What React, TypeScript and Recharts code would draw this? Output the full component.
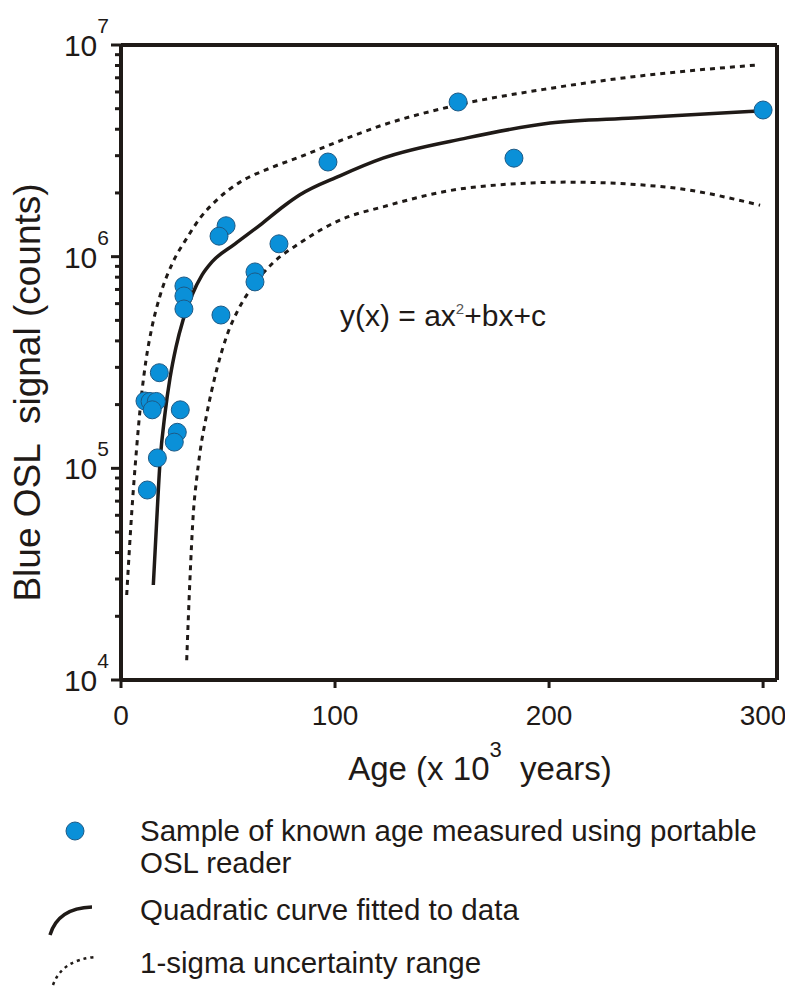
import { ComposedChart, Line, Scatter, XAxis, YAxis, ReferenceLine, Label } from "recharts"

// Samples of known age (x 10^3 years) vs blue OSL signal (counts)
const sampleAge = [300, 157.5, 183.6, 96.7, 73.8, 49.1, 45.8, 62.6, 62.6, 46.7, 29.4, 29.4, 29.4, 17.9, 11.2, 13.6, 16.5, 14.6, 27.7, 26.3, 24.9, 17.0, 12.3]
const sampleSignal = [4.93e6, 5.38e6, 2.92e6, 2.8e6, 1.15e6, 1.4e6, 1.25e6, 8.47e5, 7.6e5, 5.3e5, 7.27e5, 6.52e5, 5.66e5, 2.83e5, 2.08e5, 2.07e5, 2.07e5, 1.89e5, 1.89e5, 1.48e5, 1.33e5, 1.12e5, 7.9e4]

// Quadratic fit
const fitAge = [15.1, 16.7, 18.2, 20.6, 22.9, 25.7, 29.0, 33.2, 37.9, 42.5, 53.3, 64.95, 76.6, 83.6, 102.3, 122.4, 161.7, 200.5, 239.3, 298.6]
const fitSignal = [2.81e4, 5.7e4, 1.06e5, 1.83e5, 2.67e5, 3.74e5, 5.02e5, 6.59e5, 8.2e5, 9.44e5, 1.15e6, 1.41e6, 1.75e6, 1.96e6, 2.41e6, 2.92e6, 3.64e6, 4.28e6, 4.52e6, 4.88e6]

// 1-sigma bounds
const upperAge = [2.66, 5.0, 7.34, 9.35, 11.7, 14.5, 18.2, 24.3, 30.7, 36.9, 44.7, 55.6, 69.6, 83.6, 100.9, 122.4, 153.7, 200.5, 239.3, 297]
const upperSignal = [2.52e4, 6.15e4, 1.26e5, 2.1e5, 3.25e5, 4.66e5, 6.52e5, 9.44e5, 1.22e6, 1.52e6, 1.85e6, 2.25e6, 2.62e6, 2.96e6, 3.48e6, 4.19e6, 5.11e6, 6.24e6, 7.08e6, 8.04e6]
const lowerAge = [30.7, 32.2, 33.8, 35.4, 36.9, 40.0, 44.7, 49.4, 54.7, 60.3, 71.0, 83.6, 102.3, 122.4, 161.7, 208.4, 255.1, 298.6]
const lowerSignal = [1.24e4, 2.97e4, 6.15e4, 9.0e4, 1.19e5, 1.79e5, 2.92e5, 4.22e5, 5.6e5, 6.96e5, 9.34e5, 1.16e6, 1.49e6, 1.72e6, 2.11e6, 2.25e6, 2.13e6, 1.75e6]

const ageTicks = [0, 100, 200, 300]
const signalTicks = [
  1e4, 2e4, 3e4, 4e4, 5e4, 6e4, 7e4, 8e4, 9e4,
  1e5, 2e5, 3e5, 4e5, 5e5, 6e5, 7e5, 8e5, 9e5,
  1e6, 2e6, 3e6, 4e6, 5e6, 6e6, 7e6, 8e6, 9e6,
  1e7,
]
const majorTicks = [1e4, 1e5, 1e6, 1e7]

const ink = "#1f1a17"
const dotBlue = "#0a90d8"
const font = "'Liberation Sans', Arial, sans-serif"

const pairs = (xs: number[], ys: number[]) => xs.map((x, i) => ({ x, y: ys[i] }))
const samples = pairs(sampleAge, sampleSignal)
const fitted = pairs(fitAge, fitSignal)
const upper = pairs(upperAge, upperSignal)
const lower = pairs(lowerAge, lowerSignal)

function SignalTick(props: any) {
  const { x, y, payload } = props
  const v = payload.value
  const major = majorTicks.includes(v)
  return (
    <g>
      <line x1={x - (major ? 10 : 6)} x2={x} y1={y} y2={y} stroke={ink} strokeWidth={3} />
      {major && (
        <text x={x - 12} y={y + 11} textAnchor="end" fill={ink} fontSize={30} fontFamily={font}>
          10
          <tspan fontSize={21} dy={-23}>{Math.round(Math.log10(v))}</tspan>
        </text>
      )}
    </g>
  )
}

function SampleDot(props: any) {
  const { cx, cy } = props
  return <circle cx={cx} cy={cy} r={9} fill={dotBlue} stroke="#1d5a86" strokeWidth={1} />
}

function AgeTitle(props: any) {
  const { x, width, y } = props.viewBox
  return (
    <text x={x + width / 2 + 31} y={y + 100} textAnchor="middle" fill={ink} fontSize={33} fontFamily={font} style={{ whiteSpace: "pre" }}>
      Age (x 10
      <tspan fontSize={22} dy={-23}>3</tspan>
      <tspan dy={23}>{"  years)"}</tspan>
    </text>
  )
}

function SignalTitle(props: any) {
  const { y, height } = props.viewBox
  const cx = 40
  const cy = y + height / 2 + 30
  return (
    <text x={cx} y={cy} transform={`rotate(-90, ${cx}, ${cy})`} textAnchor="middle" fill={ink} fontSize={37} fontFamily={font} style={{ whiteSpace: "pre" }}>
      {"Blue OSL  signal (counts)"}
    </text>
  )
}

export default function App() {
  return (
    <div style={{ position: "absolute", left: 0, top: 0, width: 785, height: 987, background: "#fff", fontFamily: font, color: ink }}>
      <ComposedChart width={785} height={987} margin={{ top: 45, right: 8, left: 11, bottom: 197 }}>
        <XAxis
          type="number"
          dataKey="x"
          domain={[0, 306.5]}
          ticks={ageTicks}
          allowDataOverflow
          tickSize={8}
          tickMargin={17}
          height={110}
          axisLine={{ stroke: ink, strokeWidth: 4 }}
          tickLine={{ stroke: ink, strokeWidth: 3 }}
          tick={{ fill: ink, fontSize: 28, fontFamily: font }}
        >
          <Label content={AgeTitle} />
        </XAxis>
        <YAxis
          type="number"
          dataKey="y"
          scale="log"
          domain={[1e4, 1e7]}
          ticks={signalTicks}
          interval={0}
          allowDataOverflow
          width={110}
          tickSize={0}
          tickMargin={0}
          tickLine={false}
          axisLine={{ stroke: ink, strokeWidth: 4 }}
          tick={SignalTick}
        >
          <Label content={SignalTitle} />
        </YAxis>
        <ReferenceLine y={1e7} stroke={ink} strokeWidth={4} />
        <ReferenceLine x={306.5} stroke={ink} strokeWidth={4} />
        <Line data={upper} dataKey="y" type="monotone" stroke={ink} strokeWidth={3} strokeDasharray="5 5" dot={false} isAnimationActive={false} />
        <Line data={lower} dataKey="y" type="monotone" stroke={ink} strokeWidth={3} strokeDasharray="5 5" dot={false} isAnimationActive={false} />
        <Line data={fitted} dataKey="y" type="monotone" stroke={ink} strokeWidth={3.5} dot={false} isAnimationActive={false} />
        <Scatter data={samples} dataKey="y" shape={SampleDot} isAnimationActive={false} />
      </ComposedChart>

      <div style={{ position: "absolute", left: 340, top: 299, fontSize: 30, whiteSpace: "nowrap" }}>
        y(x) = ax<sup style={{ fontSize: 15, verticalAlign: "12px", color: "#555" }}>2</sup>+bx+c
      </div>

      <div style={{ position: "absolute", left: 0, top: 815, width: 785, fontSize: 29.5, lineHeight: "32px" }}>
        <svg width={100} height={180} style={{ position: "absolute", left: 0, top: 0 }}>
          <circle cx={75} cy={16} r={9} fill={dotBlue} stroke="#1d5a86" strokeWidth={1} />
          <path d="M50,120 Q58,93 92,92" fill="none" stroke={ink} strokeWidth={3.5} />
          <path d="M53,170 Q62,145 95,142" fill="none" stroke={ink} strokeWidth={2.5} strokeDasharray="3 4" />
        </svg>
        <div style={{ position: "absolute", left: 140, top: 0 }}>
          Sample of known age measured using portable
          <br />
          OSL reader
        </div>
        <div style={{ position: "absolute", left: 140, top: 79 }}>Quadratic curve fitted to data</div>
        <div style={{ position: "absolute", left: 140, top: 132 }}>1-sigma uncertainty range</div>
      </div>
    </div>
  )
}
